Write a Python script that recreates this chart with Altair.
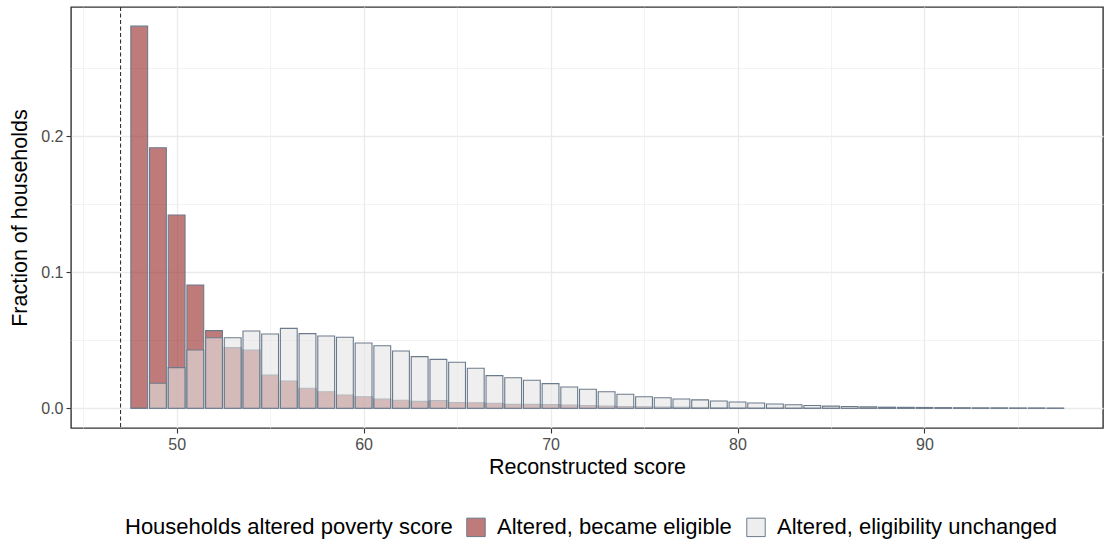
import altair as alt
import pandas as pd

# Reconstructed score bins (bar centres) and the share of households per bin
scores = list(range(48, 98))

became_eligible = [
    0.2810, 0.1916, 0.1421, 0.0907, 0.0571, 0.0446, 0.0429, 0.0245, 0.0201, 0.0147,
    0.0122, 0.0098, 0.0085, 0.0068, 0.0059, 0.0051, 0.0056, 0.0042, 0.0041, 0.0037,
    0.0029, 0.0029, 0.0027, 0.0024, 0.0021, 0.0017, 0.0013, 0.0011, 0.0009, 0.0008,
    0.0006, 0.0005, 0.0004, 0.0003, 0.0003, 0.0002, 0.0002, 0.0001, 0.0001, 0.0001,
    0.0001, 0.0001, 0.0000, 0.0000, 0.0000, 0.0000, 0.0000, 0.0000, 0.0000, 0.0000,
]

eligibility_unchanged = [
    0.0000, 0.0184, 0.0299, 0.0429, 0.0519, 0.0519, 0.0568, 0.0546, 0.0588, 0.0549,
    0.0532, 0.0522, 0.0480, 0.0460, 0.0421, 0.0380, 0.0360, 0.0338, 0.0294, 0.0240,
    0.0225, 0.0206, 0.0181, 0.0157, 0.0140, 0.0122, 0.0103, 0.0085, 0.0078, 0.0068,
    0.0062, 0.0054, 0.0046, 0.0039, 0.0032, 0.0026, 0.0021, 0.0016, 0.0013, 0.0010,
    0.0008, 0.0007, 0.0006, 0.0005, 0.0004, 0.0003, 0.0003, 0.0002, 0.0002, 0.0001,
]

# Eligibility cutoff on the score
cutoff = [47]

groups = ["Altered, became eligible", "Altered, eligibility unchanged"]
fills = ["#952222", "#e4e4e4"]
outline = "#6c7b8b"
FONT = "Liberation Sans"

bars = pd.concat(
    [
        pd.DataFrame({"score": scores, "fraction": became_eligible, "group": groups[0]}),
        pd.DataFrame({"score": scores, "fraction": eligibility_unchanged, "group": groups[1]}),
    ],
    ignore_index=True,
)

major_x = "datum.value % 10 === 0"
major_y = "abs(datum.value * 10 - round(datum.value * 10)) < 0.001"

x_axis = alt.Axis(
    values=[45, 50, 55, 60, 65, 70, 75, 80, 85, 90, 95],
    labelExpr=f"{major_x} ? datum.label : ''",
    tickOpacity={"condition": {"test": major_x, "value": 1}, "value": 0},
    gridWidth={"condition": {"test": major_x, "value": 1.3}, "value": 0.6},
    title="Reconstructed score",
)
y_axis = alt.Axis(
    values=[0, 0.05, 0.1, 0.15, 0.2, 0.25],
    format=".1f",
    labelExpr=f"{major_y} ? datum.label : ''",
    tickOpacity={"condition": {"test": major_y, "value": 1}, "value": 0},
    gridWidth={"condition": {"test": major_y, "value": 1.3}, "value": 0.6},
    title="Fraction of households",
)

x_scale = alt.Scale(domain=[44.35, 99.55], nice=False, zero=False)
y_scale = alt.Scale(domain=[-0.0145, 0.2951], nice=False, zero=False)

# legend keys are drawn at 60% opacity like the bars, so the key outline
# colour is darkened to end up at the same slate tone on white
legend = alt.Legend(
    orient="none",
    legendX=54,
    legendY=509,
    direction="horizontal",
    titleOrient="left",
    title="Households altered poverty score",
    titleFontSize=22,
    titleFontWeight="normal",
    titleColor="black",
    titleLimit=0,
    labelFontSize=22,
    labelColor="black",
    labelLimit=0,
    symbolType="square",
    symbolSize=340,
    symbolOpacity=0.6,
    symbolStrokeColor="#0a233e",
    symbolStrokeWidth=1,
    labelOffset=10,
    columnPadding=12,
    titlePadding=12,
)

base = (
    alt.Chart(bars)
    .transform_calculate(lo="datum.score - 0.45", hi="datum.score + 0.45")
    .mark_bar(fillOpacity=0.6, stroke=outline, strokeWidth=1.1)
    .encode(
        x=alt.X("lo:Q", scale=x_scale, axis=x_axis),
        x2="hi:Q",
        y=alt.Y("fraction:Q", scale=y_scale, axis=y_axis, stack=None),
        y2=alt.datum(0),
        color=alt.Color("group:N", scale=alt.Scale(domain=groups, range=fills), legend=legend),
    )
)

# eligible group first, unchanged group drawn over it
red_layer = base.transform_filter(alt.datum.group == groups[0])
grey_layer = base.transform_filter(alt.datum.group == groups[1])

cut_line = (
    alt.Chart(pd.DataFrame({"cut": cutoff}))
    .mark_rule(color="#333333", strokeWidth=1.1, strokeDash=[4, 2.5])
    .encode(x=alt.X("cut:Q", scale=x_scale))
)

chart = (
    alt.layer(red_layer, grey_layer, cut_line)
    .properties(
        width=1032,
        height=421,
        autosize="none",
        padding={"left": 71, "top": 7, "right": 2, "bottom": 113},
    )
    .configure(font=FONT)
    .configure_view(stroke="#333333", strokeWidth=1.4)
    .configure_axis(
        domain=False,
        grid=True,
        gridColor="#ebebeb",
        tickColor="#333333",
        tickSize=5,
        tickWidth=1.1,
        labelFont=FONT,
        labelFontSize=16,
        labelColor="#4d4d4d",
        labelPadding=3,
        titleFont=FONT,
        titleFontSize=21.5,
        titleFontWeight="normal",
        titleColor="black",
    )
    .configure_axisX(titlePadding=4)
    .configure_axisY(titlePadding=9)
    .configure_legend(labelFont=FONT, titleFont=FONT)
)

chart.save("out.html", embed_options={"renderer": "svg", "actions": False})
